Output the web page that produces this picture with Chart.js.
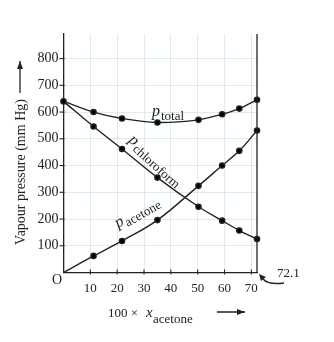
<!DOCTYPE html>
<html>
<head>
<meta charset="utf-8">
<script src="https://cdn.jsdelivr.net/npm/chart.js@4.4.0/dist/chart.umd.min.js"></script>
<style>
  html, body { margin: 0; padding: 0; background: #fff; }
  canvas { display: block; }
</style>
</head>
<body>
<canvas id="vp-chart" width="334" height="342"></canvas>
<script>
// mole % of acetone (100 * x_acetone)
const xAcetone = [0, 11.2, 21.8, 35.0, 50.3, 59.1, 65.5, 72.1];
// vapour pressures, mm Hg
const pTotal = [640, 600, 576, 561, 571, 592, 613, 646];
const pChloroform = [640, 546, 462, 355, 246, 194, 157, 125];
const pAcetone = [0, 62, 118, 196, 324, 400, 455, 531];

const xTicks = [10, 20, 30, 40, 50, 60, 70];
const yTicks = [100, 200, 300, 400, 500, 600, 700, 800];

const ink = "#222";
const serif = "'Liberation Serif', 'DejaVu Serif', serif";

function toPoints(ys) {
    return xAcetone.map((x, i) => ({ x: x, y: ys[i] }));
}

function line(ys, radii) {
    return {
        data: toPoints(ys),
        borderColor: ink,
        borderWidth: 1.4,
        backgroundColor: "#000",
        pointRadius: radii || 2.6,
        pointHoverRadius: 2.6,
        tension: 0.35,
        clip: false,
    };
}

function arrow(ctx, x1, y1, x2, y2) {
    ctx.beginPath();
    ctx.moveTo(x1, y1);
    ctx.lineTo(x2, y2);
    ctx.stroke();
    const a = Math.atan2(y2 - y1, x2 - x1);
    ctx.beginPath();
    ctx.moveTo(x2, y2);
    ctx.lineTo(x2 - 8 * Math.cos(a) + 3 * Math.sin(a), y2 - 8 * Math.sin(a) - 3 * Math.cos(a));
    ctx.lineTo(x2 - 8 * Math.cos(a) - 3 * Math.sin(a), y2 - 8 * Math.sin(a) + 3 * Math.cos(a));
    ctx.closePath();
    ctx.fill();
}

// italic p with a subscript, optionally rotated
function pLabel(ctx, sub, x, y, angle) {
    ctx.save();
    ctx.translate(x, y);
    ctx.rotate(angle * Math.PI / 180);
    ctx.textAlign = "left";
    ctx.textBaseline = "alphabetic";
    ctx.font = "italic 16px " + serif;
    ctx.fillText("p", 0, 0);
    const w = ctx.measureText("p").width;
    ctx.font = "13px " + serif;
    ctx.fillText(sub, w + 1, 4);
    ctx.restore();
}

const decorations = {
    id: "decorations",
    afterDraw(chart) {
        const ctx = chart.ctx;
        const xs = chart.scales.x, ys = chart.scales.y;
        const area = chart.chartArea;
        ctx.save();
        ctx.strokeStyle = ink;
        ctx.fillStyle = ink;
        ctx.lineWidth = 1.3;

        // right boundary at x = 72.1
        const xr = xs.getPixelForValue(72.1);
        ctx.beginPath();
        ctx.moveTo(xr, area.top);
        ctx.lineTo(xr, ys.getPixelForValue(0));
        ctx.stroke();

        // tick marks
        ctx.lineWidth = 1.1;
        yTicks.forEach((v) => {
            const py = ys.getPixelForValue(v);
            ctx.beginPath();
            ctx.moveTo(area.left - 4, py);
            ctx.lineTo(area.left + 1, py);
            ctx.stroke();
        });
        xTicks.forEach((v) => {
            const px = xs.getPixelForValue(v);
            ctx.beginPath();
            ctx.moveTo(px, area.bottom - 3);
            ctx.lineTo(px, area.bottom + 2);
            ctx.stroke();
        });

        // origin label
        ctx.font = "14px " + serif;
        ctx.textAlign = "center";
        ctx.textBaseline = "alphabetic";
        ctx.fillText("O", 57, 284);

        // y axis title with arrow
        ctx.save();
        ctx.translate(21, 172);
        ctx.rotate(-Math.PI / 2);
        ctx.font = "14px " + serif;
        ctx.textAlign = "center";
        ctx.textBaseline = "middle";
        ctx.fillText("Vapour pressure (mm Hg)", 0, 0);
        ctx.restore();
        ctx.lineWidth = 1.3;
        arrow(ctx, 20, 93, 20, 61);

        // x axis title with arrow
        ctx.textAlign = "left";
        ctx.font = "13px " + serif;
        ctx.fillText("100 \u00d7 ", 108, 317);
        ctx.font = "italic 15px " + serif;
        ctx.fillText("x", 146, 317);
        ctx.font = "13px " + serif;
        ctx.fillText("acetone", 153, 323);
        ctx.lineWidth = 1.5;
        arrow(ctx, 217, 312, 245, 312);

        // 72.1 callout
        ctx.lineWidth = 1.3;
        ctx.font = "13px " + serif;
        ctx.fillText("72.1", 277, 277);
        ctx.beginPath();
        ctx.moveTo(284, 283);
        ctx.quadraticCurveTo(268, 285, 263, 279);
        ctx.stroke();
        ctx.beginPath();
        ctx.moveTo(259, 274);
        ctx.lineTo(266, 277);
        ctx.lineTo(261, 281);
        ctx.closePath();
        ctx.fill();

        // curve labels
        pLabel(ctx, "total", 152, 116, 0);
        pLabel(ctx, "chloroform", 128, 141, 42);
        pLabel(ctx, "acetone", 118, 228, -30);

        ctx.restore();
    },
};

const chartElem = document.getElementById("vp-chart").getContext("2d");
const vpChart = new Chart(chartElem, {
    type: "line",
    data: {
        datasets: [
            line(pTotal),
            line(pChloroform, [0, 2.6, 2.6, 2.6, 2.6, 2.6, 2.6, 2.6]),
            line(pAcetone, [0, 2.6, 2.6, 2.6, 2.6, 2.6, 2.6, 2.6]),
        ],
    },
    options: {
        responsive: false,
        animation: false,
        layout: { padding: { top: 34, right: 77, left: 0, bottom: 0 } },
        plugins: { legend: { display: false }, tooltip: { enabled: false } },
        scales: {
            x: {
                type: "linear",
                min: 0,
                max: 72.1,
                afterBuildTicks: (s) => { s.ticks = xTicks.map((v) => ({ value: v })); },
                afterFit: (s) => { s.height = 69.5; },
                grid: { color: "rgba(170,195,210,0.35)", drawTicks: false },
                border: { display: true, color: ink, width: 1.3 },
                ticks: { color: ink, font: { family: serif, size: 13 }, padding: 8, maxRotation: 0 },
            },
            y: {
                min: 0,
                max: 892,
                afterBuildTicks: (s) => { s.ticks = yTicks.map((v) => ({ value: v })); },
                afterFit: (s) => { s.width = 63.5; },
                grid: { color: "rgba(170,195,210,0.35)", drawTicks: false },
                border: { display: true, color: ink, width: 1.3 },
                ticks: { color: ink, font: { family: serif, size: 14 }, padding: 5 },
            },
        },
    },
    plugins: [decorations],
});
</script>
</body>
</html>
